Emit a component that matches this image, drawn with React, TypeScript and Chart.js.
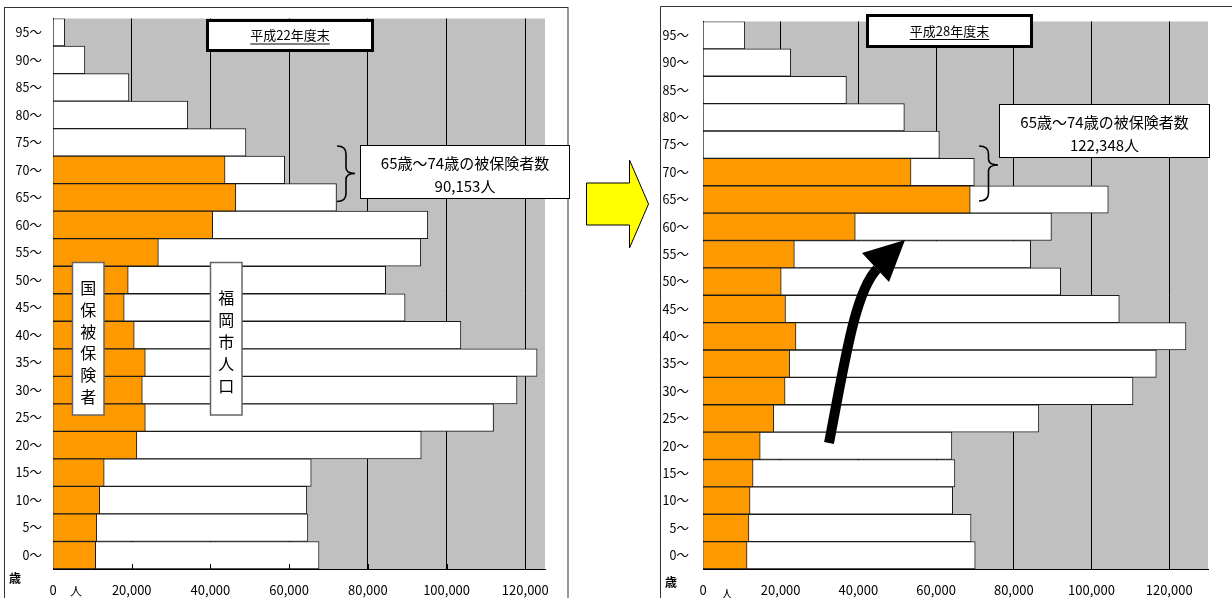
import React, { useEffect, useRef } from "react";
import { Chart, registerables } from "chart.js";

Chart.register(...registerables);

// Age groups, top row first
const ageLabels = [
  "95～", "90～", "85～", "80～", "75～", "70～", "65～", "60～", "55～", "50～",
  "45～", "40～", "35～", "30～", "25～", "20～", "15～", "10～", "5～", "0～",
];

// 平成22年度末: population of Fukuoka city and NHI insured persons by age group
const popH22 = [
  2980, 8100, 19290, 34240, 49020, 58860, 72030, 95220, 93440, 84520,
  89450, 103630, 122990, 117890, 111930, 93560, 65610, 64480, 64760, 67590,
];
const insH22 = [
  null, null, null, null, null, 43710, 46443, 40560, 26770, 19110,
  18090, 20640, 23450, 22690, 23460, 21300, 13010, 11880, 11120, 10840,
];

// 平成28年度末
const popH28 = [
  10760, 22590, 36930, 51840, 60850, 69840, 104330, 89700, 84350, 92070,
  107170, 124330, 116690, 110700, 86460, 64070, 64850, 64270, 69010, 70080,
];
const insH28 = [
  null, null, null, null, null, 53555, 68793, 39200, 23520, 20140,
  21240, 23940, 22300, 21130, 18220, 14730, 12890, 12120, 11830, 11340,
];

const xTickValues = [0, 20000, 40000, 60000, 80000, 100000, 120000];

const FONT = "'Noto Sans CJK JP', 'Noto Sans', sans-serif";
const ORANGE = "#FF9900";
const PLOT_GRAY = "#C0C0C0";

type Decorate = (ctx: CanvasRenderingContext2D, chart: any) => void;

const plotBackground = {
  id: "plotBackground",
  beforeDraw(chart: any) {
    const { ctx, chartArea } = chart;
    ctx.save();
    ctx.fillStyle = PLOT_GRAY;
    ctx.fillRect(chartArea.left, chartArea.top, chartArea.right - chartArea.left, chartArea.bottom - chartArea.top);
    ctx.restore();
  },
};

function textBox(ctx: CanvasRenderingContext2D, x: number, y: number, w: number, h: number, lw: number, stroke: string) {
  ctx.fillStyle = "#FFFFFF";
  ctx.fillRect(x, y, w, h);
  ctx.lineWidth = lw;
  ctx.strokeStyle = stroke;
  ctx.strokeRect(x, y, w, h);
}

function centeredText(ctx: CanvasRenderingContext2D, s: string, x: number, y: number, size: number) {
  ctx.font = `${size}px ${FONT}`;
  ctx.fillStyle = "#000";
  ctx.textAlign = "center";
  ctx.textBaseline = "middle";
  ctx.fillText(s, x, y);
}

function titleBox(ctx: CanvasRenderingContext2D, title: string, x: number, y: number, w: number, h: number) {
  textBox(ctx, x, y, w, h, 3, "#000");
  const cx = x + w / 2;
  const cy = y + h / 2;
  centeredText(ctx, title, cx, cy, 13);
  const tw = ctx.measureText(title).width;
  ctx.beginPath();
  ctx.lineWidth = 1;
  ctx.strokeStyle = "#000";
  ctx.moveTo(cx - tw / 2, cy + 8.5);
  ctx.lineTo(cx + tw / 2, cy + 8.5);
  ctx.stroke();
}

function countBox(ctx: CanvasRenderingContext2D, count: string, x: number, y: number, w: number, h: number) {
  textBox(ctx, x, y, w, h, 1, "#000");
  centeredText(ctx, "65歳～74歳の被保険者数", x + w / 2, y + 18, 15);
  centeredText(ctx, count, x + w / 2, y + 41, 15);
}

function brace(ctx: CanvasRenderingContext2D, x0: number, x1: number, top: number, tip: number, bottom: number) {
  const xm = (x0 + x1) / 2;
  ctx.beginPath();
  ctx.lineWidth = 1.6;
  ctx.strokeStyle = "#000";
  ctx.moveTo(x0, top);
  ctx.quadraticCurveTo(xm, top, xm, top + 8);
  ctx.lineTo(xm, tip - 6);
  ctx.quadraticCurveTo(xm, tip, x1, tip);
  ctx.quadraticCurveTo(xm, tip, xm, tip + 6);
  ctx.lineTo(xm, bottom - 8);
  ctx.quadraticCurveTo(xm, bottom, x0, bottom);
  ctx.stroke();
}

function verticalLabel(ctx: CanvasRenderingContext2D, chars: string, x: number, y: number, w: number, h: number, firstY: number, step: number) {
  textBox(ctx, x, y, w, h, 1.5, "#666");
  [...chars].forEach((c, i) => centeredText(ctx, c, x + w / 2, firstY + i * step, 16));
}

function unitLabels(ctx: CanvasRenderingContext2D, ageX: number, ageY: number, personX: number, personY: number) {
  ctx.font = `bold 12px ${FONT}`;
  ctx.fillStyle = "#000";
  ctx.textAlign = "center";
  ctx.textBaseline = "middle";
  ctx.fillText("歳", ageX, ageY);
  ctx.font = `12px ${FONT}`;
  ctx.fillText("人", personX, personY);
}

function insideTicks(ctx: CanvasRenderingContext2D, chart: any) {
  const xs = chart.scales.x;
  const bottom = chart.chartArea.bottom;
  ctx.beginPath();
  ctx.lineWidth = 1;
  ctx.strokeStyle = "#000";
  xTickValues.slice(1).forEach((v) => {
    const px = Math.round(xs.getPixelForValue(v)) + 0.5;
    ctx.moveTo(px, bottom);
    ctx.lineTo(px, bottom - 5);
  });
  ctx.stroke();
}

// 平成22年度末 panel, plus the yellow arrow pointing to the next panel
const decorateH22: Decorate = (ctx, chart) => {
  insideTicks(ctx, chart);
  ctx.lineWidth = 1;
  ctx.strokeStyle = "#333";
  ctx.strokeRect(4.5, 7.5, 563.5, 700);

  titleBox(ctx, "平成22年度末", 207.5, 20.5, 165, 30);
  brace(ctx, 337, 355, 146, 173.5, 201.5);
  countBox(ctx, "90,153人", 360.5, 145.5, 209, 53);

  verticalLabel(ctx, "国保被保険者", 72.5, 262.5, 31.5, 152.5, 288, 21.8);
  verticalLabel(ctx, "福岡市人口", 210.5, 262.5, 31.5, 152.5, 298, 22);

  unitLabels(ctx, 15, 578, 76, 591);

  ctx.beginPath();
  ctx.moveTo(586.5, 183);
  ctx.lineTo(629.5, 183);
  ctx.lineTo(629.5, 160);
  ctx.lineTo(648.5, 204);
  ctx.lineTo(629.5, 248);
  ctx.lineTo(629.5, 225);
  ctx.lineTo(586.5, 225);
  ctx.closePath();
  ctx.fillStyle = "#FFFF00";
  ctx.fill();
  ctx.lineWidth = 1;
  ctx.strokeStyle = "#000";
  ctx.stroke();
};

// 平成28年度末 panel with the curved arrow
const decorateH28: Decorate = (ctx, chart) => {
  insideTicks(ctx, chart);
  ctx.beginPath();
  ctx.lineWidth = 1;
  ctx.strokeStyle = "#333";
  ctx.moveTo(660.5, 700);
  ctx.lineTo(660.5, 6.5);
  ctx.lineTo(1240, 6.5);
  ctx.stroke();

  titleBox(ctx, "平成28年度末", 867.5, 15.5, 164, 31);
  brace(ctx, 979, 998, 146, 165, 201);
  countBox(ctx, "122,348人", 999.5, 104.5, 210, 53);

  unitLabels(ctx, 671, 582, 727, 594);

  // curved arrow: shaft then head
  ctx.beginPath();
  ctx.lineWidth = 10;
  ctx.lineCap = "butt";
  ctx.strokeStyle = "#000";
  ctx.moveTo(829, 443);
  ctx.bezierCurveTo(845, 360, 855, 292, 877, 269);
  ctx.stroke();
  ctx.beginPath();
  ctx.moveTo(905, 240);
  ctx.lineTo(862, 253);
  ctx.lineTo(889, 282);
  ctx.closePath();
  ctx.fillStyle = "#000";
  ctx.fill();
};

type PanelProps = {
  left: number;
  width: number;
  pop: number[];
  ins: (number | null)[];
  xMax: number;
  padLeft: number;
  axisWidth: number;
  padRight: number;
  labelPad: number;
  decorate: Decorate;
};

function PyramidPanel({ left, width, pop, ins, xMax, padLeft, axisWidth, padRight, labelPad, decorate }: PanelProps) {
  const ref = useRef<HTMLCanvasElement>(null);

  useEffect(() => {
    const decorPlugin = {
      id: "panelDecor",
      afterDraw(chart: any) {
        const ctx = chart.ctx as CanvasRenderingContext2D;
        ctx.save();
        ctx.translate(-left, 0);
        decorate(ctx, chart);
        ctx.restore();
      },
    };
    const barStyle = {
      borderColor: "#1a1a1a",
      borderWidth: 1,
      grouped: false,
      barPercentage: 1,
      categoryPercentage: 1,
    };
    const chart = new Chart(ref.current!, {
      type: "bar",
      data: {
        labels: ageLabels,
        datasets: [
          { label: "国保被保険者", data: ins, backgroundColor: ORANGE, ...barStyle },
          { label: "福岡市人口", data: pop, backgroundColor: "#FFFFFF", ...barStyle },
        ],
      },
      options: {
        indexAxis: "y",
        responsive: false,
        animation: false,
        devicePixelRatio: 1,
        layout: { padding: { top: 7, left: padLeft, right: padRight, bottom: 0 } },
        plugins: { legend: { display: false }, tooltip: { enabled: false } },
        scales: {
          x: {
            type: "linear",
            min: 0,
            max: xMax,
            afterFit: (s: any) => {
              s.height = 29;
            },
            afterBuildTicks: (s: any) => {
              s.ticks = xTickValues.map((v) => ({ value: v }));
            },
            ticks: {
              padding: 13,
              color: "#000",
              font: { family: FONT, size: 13 },
              maxRotation: 0,
              autoSkip: false,
              callback: (v: any) => Number(v).toLocaleString("en-US"),
            },
            grid: { color: "#000", lineWidth: 1, drawTicks: false },
            border: { color: "#000", width: 1 },
          },
          y: {
            afterFit: (s: any) => {
              s.width = axisWidth;
            },
            ticks: { padding: labelPad, color: "#000", font: { family: FONT, size: 12.5 }, autoSkip: false },
            grid: { display: false, drawTicks: false },
            border: { color: "#000", width: 1 },
          },
        },
      } as any,
      plugins: [plotBackground, decorPlugin],
    });
    return () => chart.destroy();
  }, []);

  return (
    <canvas
      ref={ref}
      width={width}
      height={598}
      style={{ position: "absolute", left, top: 0, width, height: 598 }}
    />
  );
}

export default function App() {
  return (
    <div style={{ position: "fixed", left: 0, top: 0, width: 1232, height: 598, background: "#fff", overflow: "hidden" }}>
      <PyramidPanel
        left={0}
        width={652}
        pop={popH22}
        ins={insH22}
        xMax={125000}
        padLeft={5}
        axisWidth={48}
        padRight={107}
        labelPad={11}
        decorate={decorateH22}
      />
      <PyramidPanel
        left={652}
        width={580}
        pop={popH28}
        ins={insH28}
        xMax={130000}
        padLeft={9}
        axisWidth={42}
        padRight={24}
        labelPad={14}
        decorate={decorateH28}
      />
    </div>
  );
}
